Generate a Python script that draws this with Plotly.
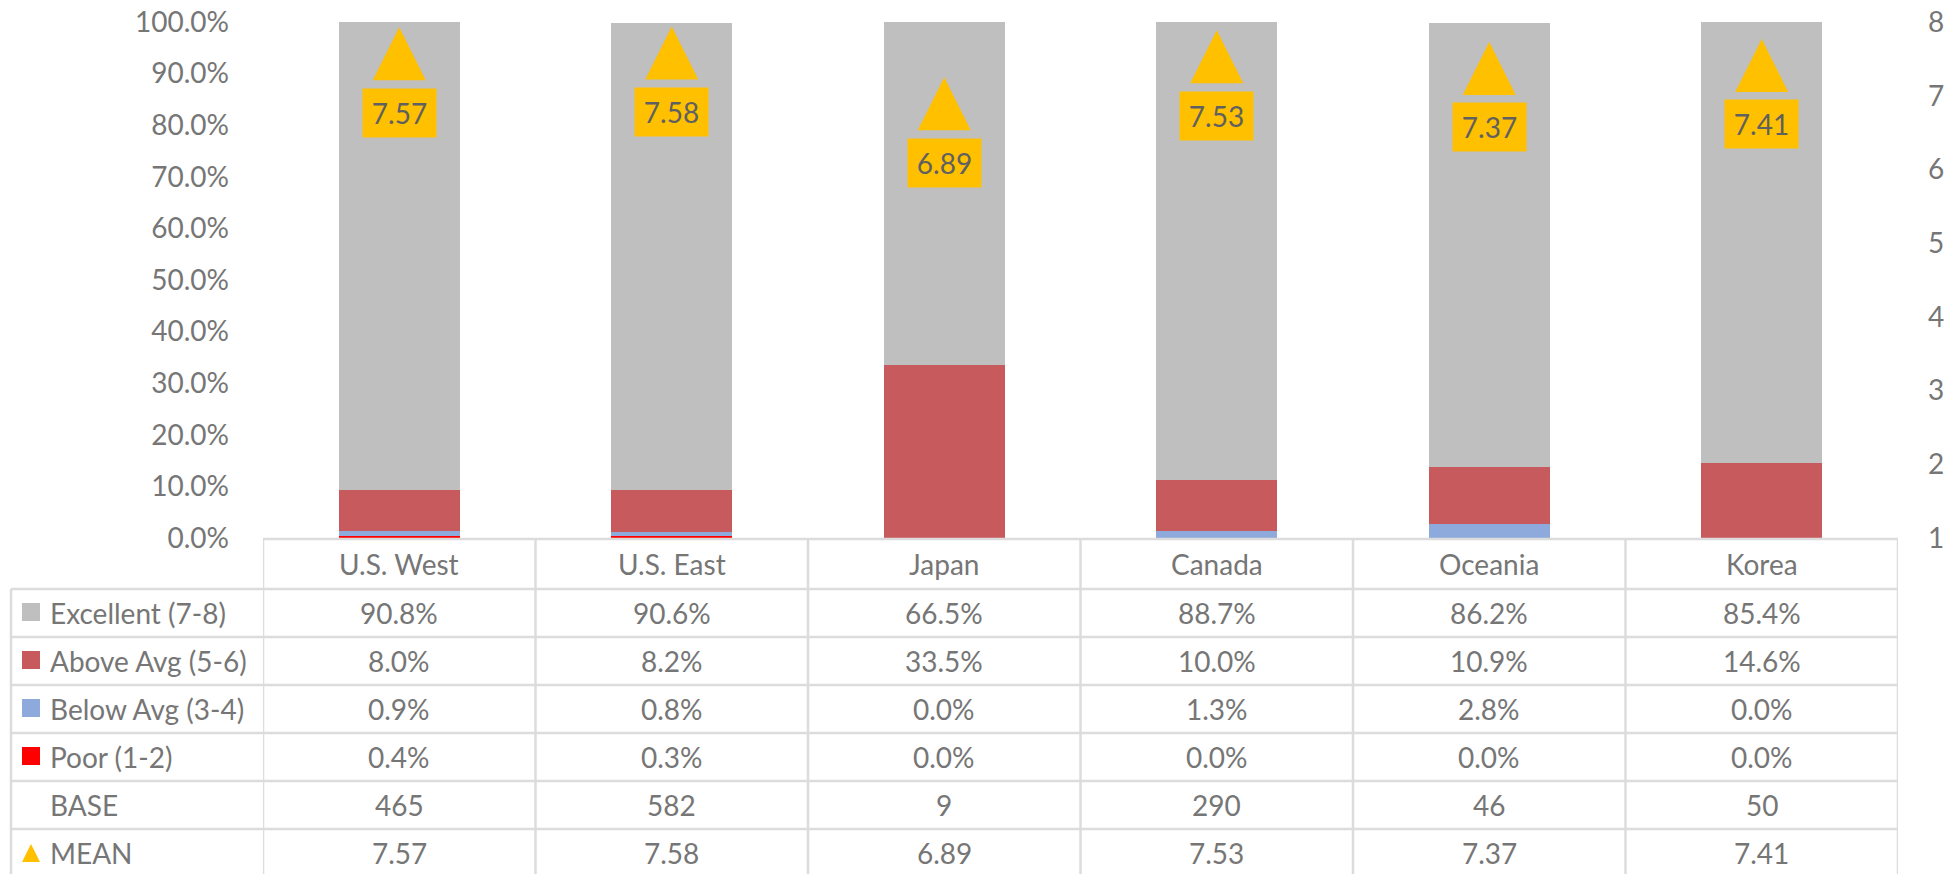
import plotly.graph_objects as go

# ---- data -------------------------------------------------------------
regions = ["U.S. West", "U.S. East", "Japan", "Canada", "Oceania", "Korea"]
excellent = [90.8, 90.6, 66.5, 88.7, 86.2, 85.4]   # share rating 7-8 (%)
above_avg = [8.0, 8.2, 33.5, 10.0, 10.9, 14.6]     # share rating 5-6 (%)
below_avg = [0.9, 0.8, 0.0, 1.3, 2.8, 0.0]         # share rating 3-4 (%)
poor = [0.4, 0.3, 0.0, 0.0, 0.0, 0.0]              # share rating 1-2 (%)
base = [465, 582, 9, 290, 46, 50]                  # respondents
mean = [7.57, 7.58, 6.89, 7.53, 7.37, 7.41]        # mean score (1-8)

pct_ticks = [0, 10, 20, 30, 40, 50, 60, 70, 80, 90, 100]
score_ticks = [1, 2, 3, 4, 5, 6, 7, 8]

# ---- styling / layout constants ---------------------------------------
W, H = 1944, 874
PLOT_L, PLOT_R = 263, 1898
PLOT_T, PLOT_B = 22, 538
TABLE_L = 11
HEADER_TOP = 539
ROW_TOP = 589
ROW_H = 48

C_EXC = "#BFBFBF"
C_ABOVE = "#C75A5C"
C_BELOW = "#8EA9DB"
C_POOR = "#FF0000"
C_MEAN = "#FFC000"
C_TEXT = "#767676"
C_GRID = "#DCDCDC"
FONT = "Lato"
FS = 28

# mean-marker triangle size in pixels (width == height)
TRI_PX = 53


def px_x(px):
    return px / W


def px_y(py):
    return 1 - py / H


xs = list(range(len(regions)))
x_unit_px = (PLOT_R - PLOT_L) / len(regions)        # pixels per category
y2_unit_px = (PLOT_B - PLOT_T) / (score_ticks[-1] - score_ticks[0])

fig = go.Figure()

# stacked distribution bars (bottom to top)
for name, vals, col in [
    ("Poor (1-2)", poor, C_POOR),
    ("Below Avg (3-4)", below_avg, C_BELOW),
    ("Above Avg (5-6)", above_avg, C_ABOVE),
    ("Excellent (7-8)", excellent, C_EXC),
]:
    fig.add_trace(go.Bar(
        x=xs, y=vals, name=name, width=0.445,
        marker=dict(color=col, line=dict(width=0)),
        hoverinfo="skip",
    ))

# mean score triangles on the secondary axis, centred on each mean value
hw = TRI_PX / 2 / x_unit_px
hh = TRI_PX / 2 / y2_unit_px
tri_x, tri_y = [], []
for i, m in zip(xs, mean):
    tri_x += [i - hw, i + hw, i, i - hw, None]
    tri_y += [m - hh, m - hh, m + hh, m - hh, None]
fig.add_trace(go.Scatter(
    x=tri_x, y=tri_y, yaxis="y2", mode="lines", fill="toself", name="MEAN",
    fillcolor=C_MEAN, line=dict(width=0, color=C_MEAN),
    hoverinfo="skip",
))

annotations = []
shapes = []

# mean value labels
for i, m in enumerate(mean):
    annotations.append(dict(
        x=i, y=m, xref="x", yref="y2", text=f"{m:.2f}", showarrow=False,
        yanchor="top", xanchor="center", yshift=-34,
        bgcolor=C_MEAN, borderpad=0, width=73, height=48,
        font=dict(family=FONT, size=FS, color="#606060"),
    ))

# ---- data table under the chart ---------------------------------------
rows = [
    ("Excellent (7-8)", [f"{v:.1f}%" for v in excellent], "sq", C_EXC),
    ("Above Avg (5-6)", [f"{v:.1f}%" for v in above_avg], "sq", C_ABOVE),
    ("Below Avg (3-4)", [f"{v:.1f}%" for v in below_avg], "sq", C_BELOW),
    ("Poor (1-2)", [f"{v:.1f}%" for v in poor], "sq", C_POOR),
    ("BASE", [f"{v}" for v in base], None, None),
    ("MEAN", [f"{v:.2f}" for v in mean], "tri", C_MEAN),
]

# header row with region names
hdr_mid = (HEADER_TOP + ROW_TOP) / 2
for i, r in enumerate(regions):
    annotations.append(dict(
        x=i, y=px_y(hdr_mid), xref="x", yref="paper", text=r, showarrow=False,
        xanchor="center", yanchor="middle",
        font=dict(family=FONT, size=FS, color=C_TEXT),
    ))

for k, (label, cells, key, col) in enumerate(rows):
    top = ROW_TOP + k * ROW_H
    mid = top + ROW_H / 2
    annotations.append(dict(
        x=px_x(48), y=px_y(mid), xref="paper", yref="paper", text=label,
        showarrow=False, xanchor="left", yanchor="middle",
        font=dict(family=FONT, size=FS, color=C_TEXT),
    ))
    for i, t in enumerate(cells):
        annotations.append(dict(
            x=i, y=px_y(mid), xref="x", yref="paper", text=t, showarrow=False,
            xanchor="center", yanchor="middle",
            font=dict(family=FONT, size=FS, color=C_TEXT),
        ))
    if key == "sq":
        shapes.append(dict(
            type="rect", xref="paper", yref="paper",
            x0=px_x(22), x1=px_x(40), y0=px_y(mid - 10), y1=px_y(mid + 8),
            fillcolor=col, line=dict(width=0), layer="above",
        ))
    elif key == "tri":
        shapes.append(dict(
            type="path", xref="paper", yref="paper",
            path=(f"M {px_x(22)},{px_y(mid + 9)} L {px_x(40)},{px_y(mid + 9)} "
                  f"L {px_x(31)},{px_y(mid - 9)} Z"),
            fillcolor=col, line=dict(width=0), layer="above",
        ))

# table grid lines
line_style = dict(color=C_GRID, width=2.5)
shapes.append(dict(type="line", xref="paper", yref="paper",
                   x0=px_x(PLOT_L), x1=px_x(PLOT_R),
                   y0=px_y(HEADER_TOP), y1=px_y(HEADER_TOP), line=line_style))
for k in range(len(rows)):
    y = ROW_TOP + k * ROW_H
    shapes.append(dict(type="line", xref="paper", yref="paper",
                       x0=px_x(TABLE_L), x1=px_x(PLOT_R),
                       y0=px_y(y), y1=px_y(y), line=line_style))
shapes.append(dict(type="line", xref="paper", yref="paper",
                   x0=px_x(TABLE_L), x1=px_x(TABLE_L),
                   y0=px_y(ROW_TOP), y1=0, line=line_style))
for i in range(len(regions) + 1):
    shapes.append(dict(type="line", xref="x", yref="paper",
                       x0=i - 0.5, x1=i - 0.5,
                       y0=px_y(HEADER_TOP), y1=0, line=line_style))

fig.update_layout(
    width=W, height=H,
    margin=dict(l=0, r=0, t=0, b=0, pad=0),
    paper_bgcolor="white", plot_bgcolor="white",
    barmode="stack", showlegend=False,
    font=dict(family=FONT, size=FS, color=C_TEXT),
    xaxis=dict(
        domain=[px_x(PLOT_L), px_x(PLOT_R)], range=[-0.5, 5.5],
        showticklabels=False, showgrid=False, zeroline=False, showline=False,
        ticks="", automargin=False, fixedrange=True,
    ),
    yaxis=dict(
        domain=[px_y(PLOT_B), px_y(PLOT_T)], range=[0, 100],
        tickvals=pct_ticks, ticktext=[f"{v:.1f}%" for v in pct_ticks],
        showgrid=False, zeroline=False, showline=False, ticks="",
        ticklabelstandoff=33, automargin=False,
        tickfont=dict(family=FONT, size=FS, color=C_TEXT),
    ),
    yaxis2=dict(
        overlaying="y", side="right", range=[1, 8], tickvals=score_ticks,
        showgrid=False, zeroline=False, showline=False, ticks="",
        ticklabelstandoff=29, automargin=False,
        tickfont=dict(family=FONT, size=FS, color=C_TEXT),
    ),
    annotations=annotations,
    shapes=shapes,
)

fig.write_html("out.html")
